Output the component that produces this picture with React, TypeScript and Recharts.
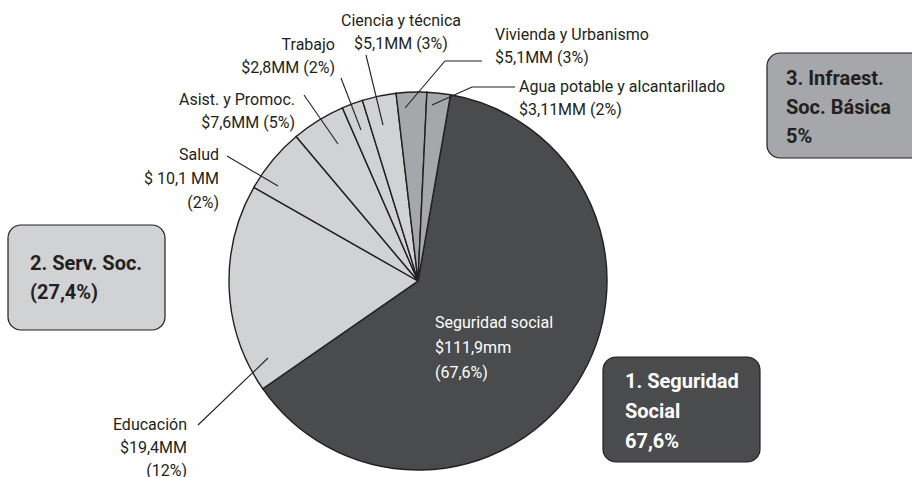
import React from "react";
import { PieChart, Pie, Cell, Customized } from "recharts";

// Slice names (clockwise from the top, starting with the large slice)
const categories = [
  "Seguridad social",
  "Educación",
  "Salud",
  "Asist. y Promoc.",
  "Trabajo",
  "Ciencia y técnica",
  "Vivienda y Urbanismo",
  "Agua potable y alcantarillado",
];
// Share of the circle each slice occupies in the picture (%)
const sliceShares = [62.6, 17.9, 5.6, 4.6, 1.8, 2.9, 2.6, 2.0];
// Printed amounts and percentages
const amountLabels = ["$111,9mm", "$19,4MM", "$ 10,1 MM", "$7,6MM", "$2,8MM", "$5,1MM", "$5,1MM", "$3,11MM"];
const percentLabels = ["(67,6%)", "(12%)", "(2%)", "(5%)", "(2%)", "(3%)", "(3%)", "(2%)"];
// Group of each slice: 0 Seguridad Social, 1 Serv. Soc., 2 Infraest.
const sliceGroup = [0, 1, 1, 1, 1, 1, 2, 2];
// Group box texts
const groupTexts = [
  ["1. Seguridad", "Social", "67,6%"],
  ["2. Serv. Soc.", "(27,4%)"],
  ["3. Infraest.", "Soc. Básica", "5%"],
];

const data = categories.map((name, i) => ({
  name,
  value: sliceShares[i],
  amount: amountLabels[i],
  pct: percentLabels[i],
  group: sliceGroup[i],
}));

const INK = "#231f20";
const GROUP_FILL = ["#4a4b4d", "#d1d2d4", "#a6a7aa"];
const GROUP_TEXT = ["#ffffff", INK, INK];

// Label layout (positions only)
type Layout = {
  x: number;
  ys: number[];
  anchor: "start" | "middle" | "end";
  split: boolean;
  color: string;
  leader?: number[][];
};
const labelLayout: Layout[] = [
  { x: 435, ys: [328, 353, 378], anchor: "start", split: true, color: "#ffffff" },
  { x: 187, ys: [430, 453, 476], anchor: "end", split: true, color: INK, leader: [[198, 425], [268, 358]] },
  { x: 219, ys: [160, 184, 208], anchor: "end", split: true, color: INK, leader: [[227, 156], [278, 186]] },
  { x: 295, ys: [105, 128], anchor: "end", split: false, color: INK, leader: [[304, 95], [338, 144]] },
  { x: 335, ys: [50, 73], anchor: "end", split: false, color: INK, leader: [[341, 78], [361, 130]] },
  { x: 401, ys: [26, 49], anchor: "middle", split: false, color: INK, leader: [[366, 55], [383, 125]] },
  { x: 495, ys: [40, 63], anchor: "start", split: false, color: INK, leader: [[482, 61], [445, 61], [405, 108]] },
  { x: 519, ys: [92, 115], anchor: "start", split: false, color: INK, leader: [[515, 87], [472, 87], [432, 105]] },
];
const boxLayout = [
  { x: 603, y: 357, w: 157, h: 105, tx: 625, ys: [388, 418, 448] },
  { x: 8, y: 225, w: 157, h: 105, tx: 30, ys: [270, 299] },
  { x: 767, y: 53, w: 170, h: 105, tx: 786, ys: [85, 114, 143] },
];

const FONT = "Roboto, 'DejaVu Sans', sans-serif";

const renderLabel = (props: any) => {
  let idx: number = props.index;
  if (idx === undefined || idx === null) idx = categories.indexOf(props.name);
  const d = data[idx];
  const L = labelLayout[idx];
  if (!d || !L) return null;
  const lines = L.split ? [d.name, d.amount, d.pct] : [d.name, `${d.amount} ${d.pct}`];
  return (
    <g key={`lbl-${idx}`}>
      {L.leader && (
        <polyline
          points={L.leader.map((p) => p.join(",")).join(" ")}
          fill="none"
          stroke={INK}
          strokeWidth={1.1}
        />
      )}
      {lines.map((t, j) => (
        <text
          key={j}
          x={L.x}
          y={L.ys[j]}
          textAnchor={L.anchor}
          fill={L.color}
          fontFamily={FONT}
          fontSize={16}
        >
          {t}
        </text>
      ))}
    </g>
  );
};

const GroupBoxes = () => (
  <g>
    {boxLayout.map((b, i) => (
      <g key={i}>
        <rect
          x={b.x}
          y={b.y}
          width={b.w}
          height={b.h}
          rx={13}
          ry={13}
          fill={GROUP_FILL[i]}
          stroke={INK}
          strokeWidth={1.2}
        />
        {groupTexts[i].map((t, j) => (
          <text
            key={j}
            x={b.tx}
            y={b.ys[j]}
            fill={GROUP_TEXT[i]}
            fontFamily={FONT}
            fontWeight={700}
            fontSize={20}
          >
            {t}
          </text>
        ))}
      </g>
    ))}
  </g>
);

export default function App() {
  return (
    <div style={{ position: "absolute", left: 0, top: 0, width: 912, height: 477, background: "#ffffff" }}>
      <PieChart width={912} height={477} margin={{ top: 0, right: 0, bottom: 0, left: 0 }}>
        <Pie
          data={data}
          dataKey="value"
          nameKey="name"
          cx={418}
          cy={281}
          innerRadius={0}
          outerRadius={189}
          startAngle={80.1}
          endAngle={-279.9}
          stroke={INK}
          strokeWidth={1.4}
          label={renderLabel}
          labelLine={false}
          isAnimationActive={false}
        >
          {data.map((d, i) => (
            <Cell key={i} fill={GROUP_FILL[d.group]} />
          ))}
        </Pie>
        <Customized component={GroupBoxes} />
      </PieChart>
    </div>
  );
}
